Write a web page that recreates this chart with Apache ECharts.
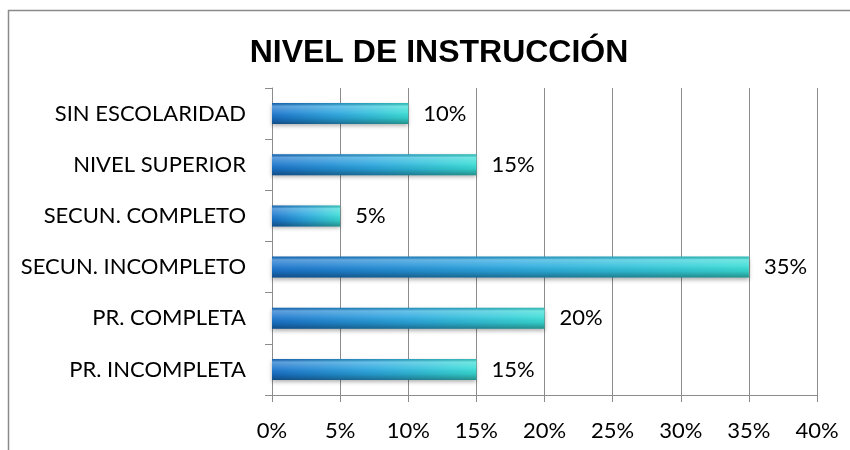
<!DOCTYPE html>
<html><head><meta charset="utf-8">
<script src="https://cdn.jsdelivr.net/npm/echarts@6/dist/echarts.min.js"></script>
<style>html,body{margin:0;padding:0;background:#fff}#c{width:850px;height:450px}</style>
</head><body><div id="c"></div>
<script>
const categories = ["PR. INCOMPLETA","PR. COMPLETA","SECUN. INCOMPLETO","SECUN. COMPLETO","NIVEL SUPERIOR","SIN ESCOLARIDAD"];
const values = [15,20,35,5,15,10];
const xTicks = {min:0,max:40,interval:5};
const title = "NIVEL DE INSTRUCCIÓN";

const chart = echarts.init(document.getElementById('c'), null, {renderer:'canvas'});
const font = "Lato, 'Open Sans', sans-serif";
chart.setOption({
  animation:false,
  backgroundColor:'#fff',
  title:{text:title,left:434,textAlign:'center',top:32,itemGap:0,textStyle:{fontFamily:"'Liberation Sans', Arial, sans-serif",fontWeight:'bold',fontSize:32,color:'#000'}},
  graphic:[{type:'rect',shape:{x:8.5,y:10.5,width:900,height:500},style:{fill:'none',stroke:'#8a8a8a',lineWidth:1.5},silent:true,z:-1}],
  grid:{left:272,right:33,top:88,bottom:55,containLabel:false},
  xAxis:{type:'value',min:xTicks.min,max:xTicks.max,interval:xTicks.interval,
    axisLabel:{formatter:v=>v+'%',fontFamily:font,fontSize:22,color:'#000',margin:25},
    axisLine:{show:true,lineStyle:{color:'#8c8c8c'}},
    axisTick:{show:true,length:7,lineStyle:{color:'#8c8c8c'}},
    splitLine:{show:true,lineStyle:{color:'#8c8c8c',width:1}}},
  yAxis:{type:'category',data:categories,
    axisLabel:{fontFamily:font,fontSize:22,color:'#000',margin:26},
    axisLine:{show:true,lineStyle:{color:'#8c8c8c'}},
    axisTick:{show:true,length:7,lineStyle:{color:'#8c8c8c'}},
    splitLine:{show:false}},
  series:[
    {type:'bar',data:values,barWidth:21,
     itemStyle:{color:new echarts.graphic.LinearGradient(0,0,1,0,[{offset:0,color:'#1a74cc'},{offset:0.5,color:'#2aa8df'},{offset:1,color:'#38ddd6'}]),
       shadowColor:'rgba(0,0,0,0.3)',shadowBlur:4,shadowOffsetY:2},
     label:{show:true,position:'right',distance:15,formatter:p=>p.value+'%',fontFamily:font,fontSize:22,color:'#000'}},
    {type:'bar',data:values,barWidth:21,barGap:'-100%',silent:true,
     itemStyle:{color:new echarts.graphic.LinearGradient(0,0,0,1,[{offset:0,color:'rgba(0,0,0,0.15)'},{offset:0.15,color:'rgba(255,255,255,0.3)'},{offset:0.45,color:'rgba(255,255,255,0.1)'},{offset:0.7,color:'rgba(0,0,0,0.08)'},{offset:1,color:'rgba(0,0,0,0.35)'}])}}
  ]
});
</script></body></html>
